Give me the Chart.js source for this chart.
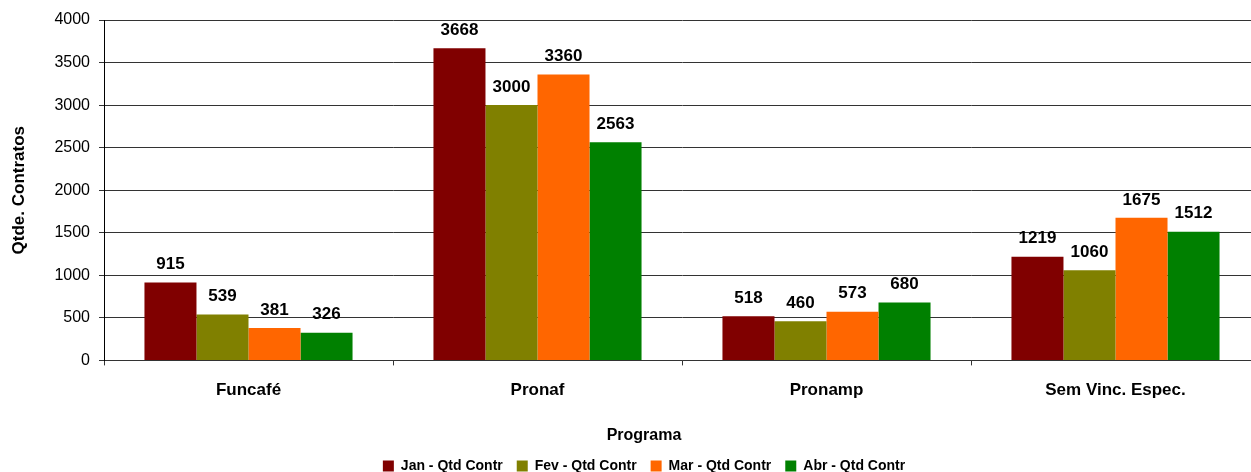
<!DOCTYPE html>
<html>
<head>
  <title>Qtde. Contratos por Programa</title>
  <script src="https://cdn.jsdelivr.net/npm/chart.js"></script>
  <style>
    body { margin: 0; background: white; overflow: hidden; }
    canvas { display: block; }
  </style>
</head>
<body>
<canvas id="chart" width="1288" height="472"></canvas>

<script>
const programas = ['Funcafé', 'Pronaf', 'Pronamp', 'Sem Vinc. Espec.'];
const jan = [915, 3668, 518, 1219];
const fev = [539, 3000, 460, 1060];
const mar = [381, 3360, 573, 1675];
const abr = [326, 2563, 680, 1512];
const yTicks = [0, 500, 1000, 1500, 2000, 2500, 3000, 3500, 4000];

const FONT = 'Arial, "Liberation Sans"';

// value labels above each bar
const valueLabels = {
  id: 'valueLabels',
  afterDatasetsDraw(chart) {
    const ctx = chart.ctx;
    ctx.save();
    ctx.font = 'bold 17px ' + FONT;
    ctx.fillStyle = '#000';
    ctx.textAlign = 'center';
    ctx.textBaseline = 'middle';
    chart.data.datasets.forEach((ds, i) => {
      chart.getDatasetMeta(i).data.forEach((bar, j) => {
        ctx.fillText(ds.data[j], bar.x, bar.y - 18);
      });
    });
    ctx.restore();
  }
};

new Chart(document.getElementById('chart'), {
  type: 'bar',
  data: {
    labels: programas,
    datasets: [
      { label: 'Jan - Qtd Contr', data: jan, backgroundColor: '#800000' },
      { label: 'Fev - Qtd Contr', data: fev, backgroundColor: '#808000' },
      { label: 'Mar - Qtd Contr', data: mar, backgroundColor: '#FF6600' },
      { label: 'Abr - Qtd Contr', data: abr, backgroundColor: '#008000' }
    ]
  },
  options: {
    responsive: false,
    animation: false,
    layout: { padding: { left: 0, right: 0, top: 20, bottom: -11 } },
    datasets: { bar: { categoryPercentage: 0.72, barPercentage: 1 } },
    plugins: {
      title: {
        display: true,
        position: 'bottom',
        weight: 500,
        text: 'Programa',
        font: { family: FONT, size: 16, weight: 'bold' },
        color: '#000',
        padding: { top: 10, bottom: 0 }
      },
      legend: {
        position: 'bottom',
        labels: {
          font: { family: FONT, size: 14, weight: 'bold' },
          color: '#000',
          boxWidth: 11,
          boxHeight: 11,
          padding: 14
        }
      },
      tooltip: { enabled: false }
    },
    scales: {
      x: {
        grid: { drawOnChartArea: false, drawTicks: true, tickLength: 5, color: '#333' },
        border: { color: '#333' },
        ticks: {
          font: { family: FONT, size: 17, weight: 'bold' },
          color: '#000',
          padding: 15
        }
      },
      y: {
        min: 0,
        max: 4000,
        afterBuildTicks: (scale) => { scale.ticks = yTicks.map(v => ({ value: v })); },
        afterFit: (scale) => { scale.width = 104; },
        grid: { color: '#333', tickLength: 5 },
        border: { color: '#000' },
        ticks: {
          font: { family: FONT, size: 16 },
          color: '#000',
          padding: 9,
          callback: (v) => String(v)
        },
        title: {
          display: true,
          text: 'Qtde. Contratos',
          font: { family: FONT, size: 17, weight: 'bold' },
          color: '#000',
          padding: { top: 9, bottom: 0 }
        }
      },
      // empty right-hand margin so the plot ends where the original was cut
      yRight: {
        position: 'right',
        grid: { display: false },
        border: { display: false },
        ticks: { display: false },
        afterFit: (scale) => { scale.width = 28; }
      }
    }
  },
  plugins: [valueLabels]
});
</script>
</body>
</html>
